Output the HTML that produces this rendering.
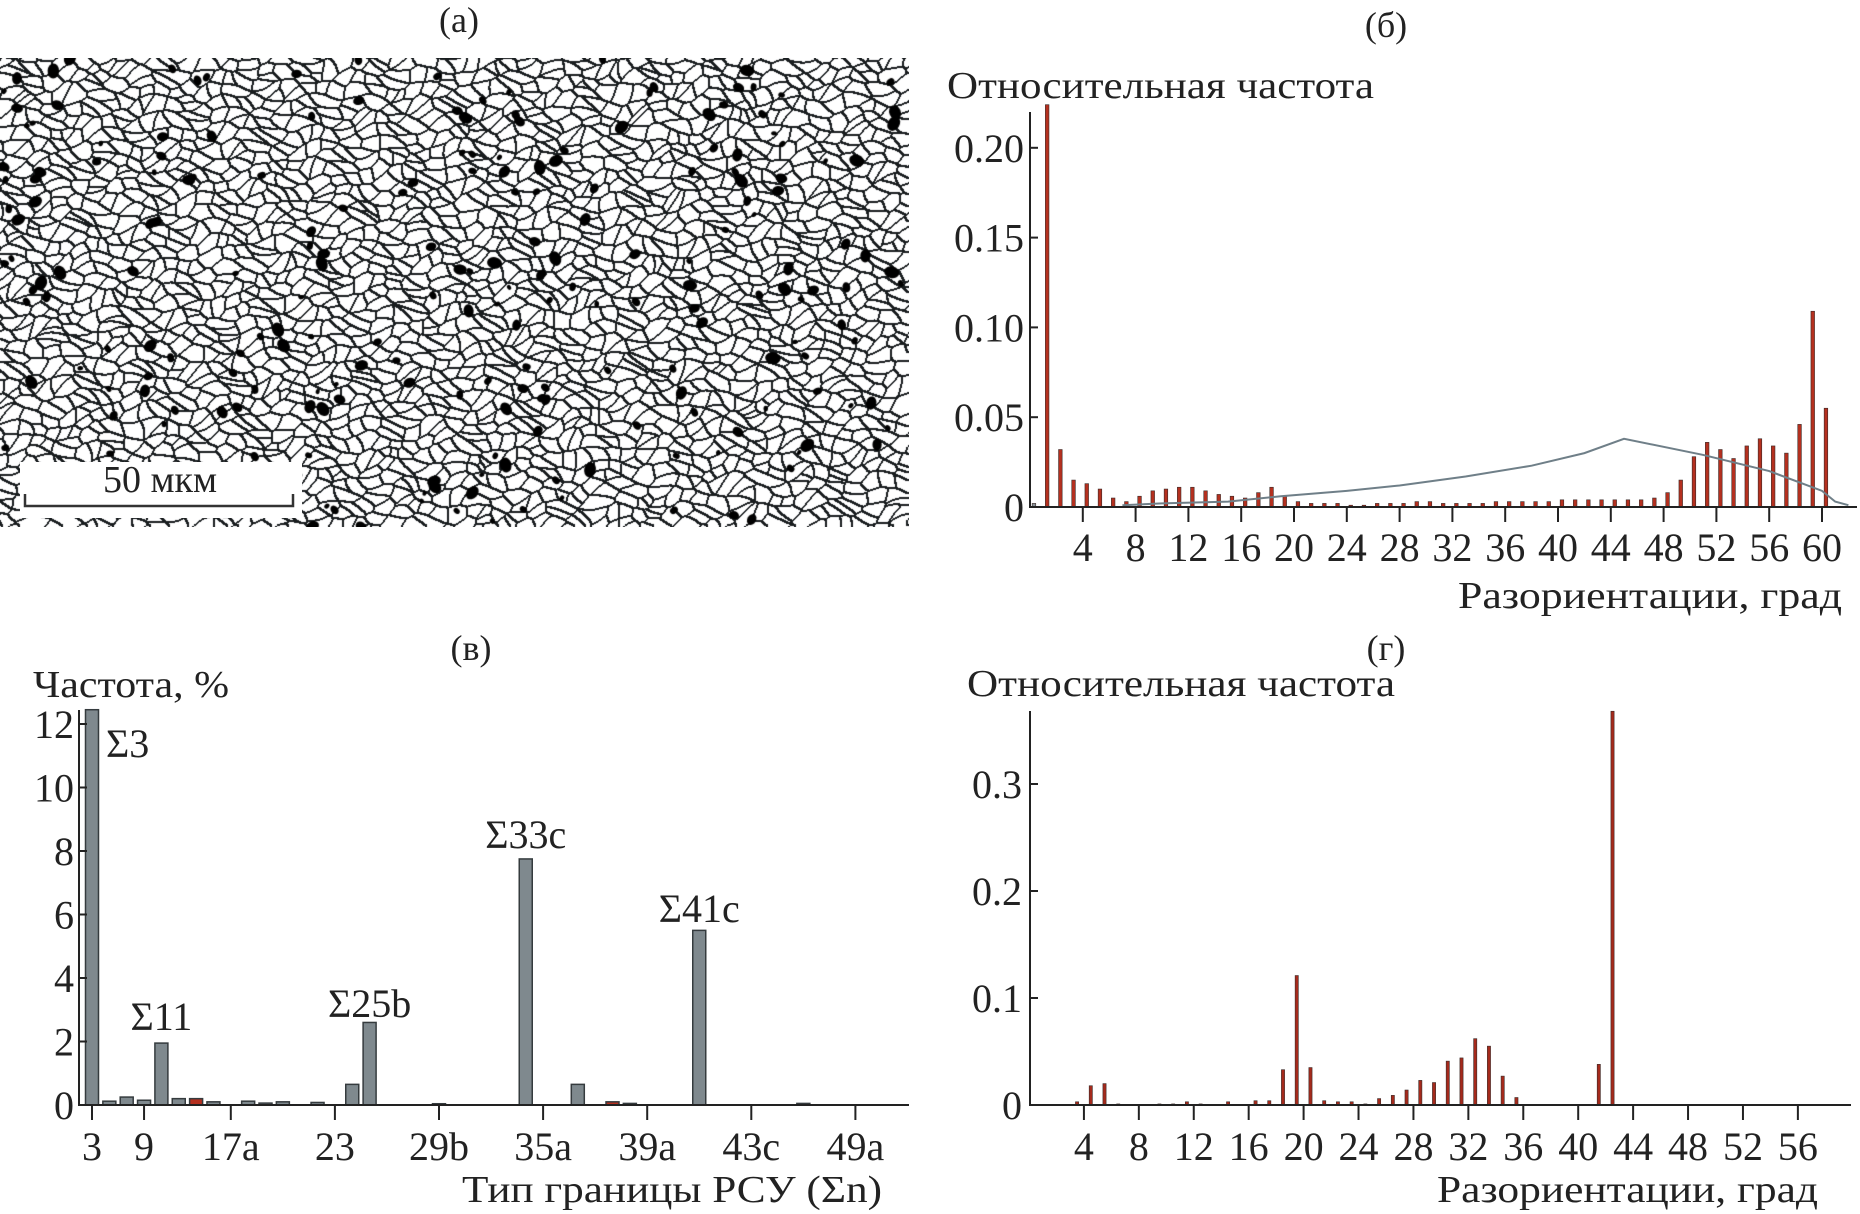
<!DOCTYPE html>
<html><head><meta charset="utf-8">
<style>
html,body{margin:0;padding:0;background:#fff;}
#root{position:relative;width:1860px;height:1214px;overflow:hidden;background:#fff;}
svg text{font-family:"Liberation Serif",serif;fill:#222;}
#micro{position:absolute;left:0;top:58px;}
</style></head>
<body>
<div id="root">
<canvas id="micro" width="909" height="469"></canvas>
<svg id="svg" width="1860" height="1214" style="position:absolute;left:0;top:0">
  <text x="459" y="32" font-size="36" text-anchor="middle">(а)</text>
  <g>
    <rect x="20" y="462" width="282" height="56" fill="#fff"/>
    <text x="160" y="492" font-size="38" text-anchor="middle">50 мкм</text>
    <path d="M25 494 V506 H293 V494" fill="none" stroke="#333" stroke-width="2.5"/>
  </g>
</svg>
</div>
<script>
// ---------- micrograph texture (image, not data) ----------
(function(){
  var c=document.getElementById('micro'),ctx=c.getContext('2d');
  var W=c.width,H=c.height;
  var s=12345;function rnd(){s=(s*1103515245+12345)&0x7fffffff;return s/0x7fffffff;}
  var G=14,gx=Math.ceil(W/G)+2,gy=Math.ceil(H/G)+2,seeds=[];
  for(var j=0;j<gy;j++)for(var i=0;i<gx;i++){seeds.push([(i-1+rnd())*G,(j-1+rnd())*G]);}
  var img=ctx.createImageData(W,H),d=img.data,lab=new Int32Array(W*H);
  for(var y=0;y<H;y++)for(var x=0;x<W;x++){
    var wx=x+4*Math.sin(y*0.11+x*0.05),wy=y+4*Math.cos(x*0.09-y*0.04);
    var ci=Math.floor(wx/G)+1,cj=Math.floor(wy/G)+1,best=1e9,bi=0;
    for(var dj=-2;dj<=2;dj++)for(var di=-2;di<=2;di++){
      var ii=ci+di,jj=cj+dj;if(ii<0||jj<0||ii>=gx||jj>=gy)continue;
      var k=jj*gx+ii,p=seeds[k],dx=(wx-p[0])*0.75,dy=(wy-p[1])*1.15,dd=dx*dx+dy*dy;
      if(dd<best){best=dd;bi=k;}
    }
    lab[y*W+x]=bi;
  }
  for(var y=0;y<H;y++)for(var x=0;x<W;x++){
    var l=lab[y*W+x],b=false;
    if(x+1<W&&lab[y*W+x+1]!=l)b=true;
    if(y+1<H&&lab[(y+1)*W+x]!=l)b=true;
    if(x+2<W&&lab[y*W+x+2]!=l)b=true;
    if(y+2<H&&lab[(y+2)*W+x]!=l)b=true;
    var v=b?25:255,o=(y*W+x)*4;d[o]=v;d[o+1]=v+4;d[o+2]=v+6;d[o+3]=255;
  }
  ctx.putImageData(img,0,0);
  ctx.fillStyle='#000';
  for(var n=0;n<220;n++){var x=rnd()*W,y=rnd()*H,r=2+rnd()*4;ctx.beginPath();ctx.ellipse(x,y,r*1.3,r,rnd()*3,0,7);ctx.fill();}
})();

// ---------- data ----------
var bAngles=[0,1,2,3,4,5,6,7,8,9,10,11,12,13,14,15,16,17,18,19,20,21,22,23,24,25,26,27,28,29,30,31,32,33,34,35,36,37,38,39,40,41,42,43,44,45,46,47,48,49,50,51,52,53,54,55,56,57,58,59,60];
var bValues=[0.002,0.24,0.032,0.015,0.013,0.010,0.005,0.003,0.006,0.009,0.010,0.011,0.011,0.009,0.007,0.006,0.005,0.008,0.011,0.006,0.003,0.002,0.002,0.002,0.001,0.001,0.002,0.002,0.002,0.003,0.003,0.002,0.002,0.002,0.002,0.003,0.003,0.003,0.003,0.003,0.004,0.004,0.004,0.004,0.004,0.004,0.004,0.005,0.008,0.015,0.028,0.036,0.032,0.027,0.034,0.038,0.034,0.030,0.046,0.109,0.055];
var bCurveX=[7,10,15,19,24,28,33,38,42,45,51,56,60,61,62];
var bCurveY=[0.001,0.002,0.003,0.006,0.009,0.012,0.017,0.023,0.030,0.038,0.029,0.020,0.009,0.003,0.001];
var bYTicks=[0,0.05,0.10,0.15,0.20];
var bYTickLabels=['0','0.05','0.10','0.15','0.20'];
var bXTicks=[4,8,12,16,20,24,28,32,36,40,44,48,52,56,60];

var vSlots=[0,1,2,3,4,5,6,7,9,10,11,13,15,16,20,25,28,30,31,35,41];
var vValues=[12.5,0.12,0.25,0.15,1.95,0.2,0.2,0.1,0.12,0.06,0.1,0.08,0.65,2.6,0.04,7.75,0.65,0.1,0.05,5.5,0.05];
var vRed=[false,false,false,false,false,false,true,false,false,false,false,false,false,false,false,false,false,true,false,false,false];
var vTickSlots=[0,3,8,14,20,26,32,38,44];
var vTickLabels=['3','9','17a','23','29b','35a','39a','43c','49a'];
var vYTicks=[0,2,4,6,8,10,12];
var vAnnot=[['Σ3',0,10.96,'start'],['Σ11',4,2.36,'middle'],['Σ25b',16,2.77,'middle'],['Σ33c',25,8.1,'middle'],['Σ41c',35,5.76,'middle']];

var gAngles=[3.5,4.5,5.5,6.5,9.5,10.5,11.5,12.5,14.5,16.5,17.5,18.5,19.5,20.5,21.5,22.5,23.5,24.5,25.5,26.5,27.5,28.5,29.5,30.5,31.5,32.5,33.5,34.5,35.5,41.5,42.5];
var gValues=[0.003,0.018,0.020,0.001,0.001,0.001,0.003,0.001,0.003,0.004,0.004,0.033,0.121,0.035,0.004,0.003,0.003,0.001,0.006,0.009,0.014,0.023,0.021,0.041,0.044,0.062,0.055,0.027,0.007,0.038,0.40];
var gYTicks=[0,0.1,0.2,0.3];
var gYTickLabels=['0','0.1','0.2','0.3'];
var gXTicks=[4,8,12,16,20,24,28,32,36,40,44,48,52,56];

// ---------- drawing ----------
var NS='http://www.w3.org/2000/svg',svg=document.getElementById('svg');
function el(tag,attrs,parent,txt){var e=document.createElementNS(NS,tag);for(var k in attrs)e.setAttribute(k,attrs[k]);if(txt!=null)e.textContent=txt;(parent||svg).appendChild(e);return e;}
function grp(name){var g=el('g',{});


return g;}

// Chart б
(function(){
  var g=grp('chart-b');
  var X=function(v){return 1030+v*13.2;},Y=function(v){return 507-v*1796;};
  var t=el('text',{x:1386,y:37,'font-size':36,'text-anchor':'middle'},g,'(б)');
  
  
  t=el('text',{x:947,y:98,'font-size':38,textLength:427,lengthAdjust:'spacingAndGlyphs'},g,'Относительная частота');
  
  
  t=el('text',{x:1842,y:608,'font-size':38,'text-anchor':'end',textLength:384,lengthAdjust:'spacingAndGlyphs'},g,'Разориентации, град');
  
  
  for(var i=0;i<bAngles.length;i++){
    var v=Math.min(bValues[i],0.224),x=X(bAngles[i]+0.3);
    var r=el('rect',{x:x-1.8,y:Y(v),width:3.6,height:507-Y(v),fill:(i==0?'#8a9499':'#b5301f'),stroke:'#3a2a28','stroke-width':0.6},g);
    
    
  }
  var pts=bCurveX.map(function(a,i){return X(a)+','+Y(bCurveY[i]);}).join(' ');
  var pl=el('polyline',{points:pts,fill:'none',stroke:'#6f7f88','stroke-width':2},g);
  
  
  el('line',{x1:1030,y1:112,x2:1030,y2:508,stroke:'#222','stroke-width':2},g);
  el('line',{x1:1029,y1:507,x2:1857,y2:507,stroke:'#222','stroke-width':2},g);
  bYTicks.forEach(function(v,i){
    el('line',{x1:1030,y1:Y(v),x2:1038,y2:Y(v),stroke:'#222','stroke-width':2},g);
    var tt=el('text',{x:1024,y:Y(v)+14,'font-size':40,'text-anchor':'end'},g,bYTickLabels[i]);
    
    
  });
  bXTicks.forEach(function(v){
    el('line',{x1:X(v),y1:507,x2:X(v),y2:522,stroke:'#222','stroke-width':2},g);
    var tt=el('text',{x:X(v),y:561,'font-size':40,'text-anchor':'middle'},g,String(v));
    
    
  });
})();

// Chart в
(function(){
  var g=grp('chart-v');
  var X=function(s){return 92+s*17.35;},Y=function(v){return 1105-v*31.75;};
  var t=el('text',{x:471,y:660,'font-size':36,'text-anchor':'middle'},g,'(в)');
  
  
  t=el('text',{x:33,y:697,'font-size':38,textLength:196,lengthAdjust:'spacingAndGlyphs'},g,'Частота, %');
  
  
  t=el('text',{x:882,y:1202,'font-size':38,'text-anchor':'end',textLength:420,lengthAdjust:'spacingAndGlyphs'},g,'Тип границы РСУ (Σn)');
  
  
  for(var i=0;i<vSlots.length;i++){
    var v=Math.min(vValues[i],12.45),x=X(vSlots[i]);
    var r=el('rect',{x:x-6.5,y:Y(v),width:13,height:1105-Y(v),fill:vRed[i]?'#b5301f':'#7f898e',stroke:'#353b3e','stroke-width':1.5},g);
    
    
  }
  el('line',{x1:79,y1:710,x2:79,y2:1106,stroke:'#222','stroke-width':2},g);
  el('line',{x1:78,y1:1105,x2:909,y2:1105,stroke:'#222','stroke-width':2},g);
  vYTicks.forEach(function(v){
    el('line',{x1:79,y1:Y(v),x2:87,y2:Y(v),stroke:'#222','stroke-width':2},g);
    var tt=el('text',{x:74,y:Y(v)+14,'font-size':40,'text-anchor':'end'},g,String(v));
    
    
  });
  vTickSlots.forEach(function(s,i){
    el('line',{x1:X(s),y1:1105,x2:X(s),y2:1120,stroke:'#222','stroke-width':2},g);
    var tt=el('text',{x:X(s),y:1160,'font-size':40,'text-anchor':'middle'},g,vTickLabels[i]);
    
    
  });
  vAnnot.forEach(function(a){
    var x=a[3]=='start'?X(a[1])+14:X(a[1]);
    var tt=el('text',{x:x,y:Y(a[2]),'font-size':40,'text-anchor':a[3]},g,a[0]);
    
    
  });
})();

// Chart г
(function(){
  var g=grp('chart-g');
  var X=function(v){return 1029+v*13.73;},Y=function(v){return 1105-v*1070;};
  var t=el('text',{x:1386,y:660,'font-size':36,'text-anchor':'middle'},g,'(г)');
  
  
  t=el('text',{x:967,y:696,'font-size':38,textLength:428,lengthAdjust:'spacingAndGlyphs'},g,'Относительная частота');
  
  
  t=el('text',{x:1818,y:1202,'font-size':38,'text-anchor':'end',textLength:381,lengthAdjust:'spacingAndGlyphs'},g,'Разориентации, град');
  
  
  for(var i=0;i<gAngles.length;i++){
    var v=Math.min(gValues[i],0.368),x=X(gAngles[i]);
    var r=el('rect',{x:x-1.6,y:Y(v),width:3.2,height:1105-Y(v),fill:'#a52a1c',stroke:'#3a2a28','stroke-width':0.6},g);
    
    
  }
  el('line',{x1:1030,y1:711,x2:1030,y2:1106,stroke:'#222','stroke-width':2},g);
  el('line',{x1:1029,y1:1105,x2:1851,y2:1105,stroke:'#222','stroke-width':2},g);
  gYTicks.forEach(function(v,i){
    el('line',{x1:1030,y1:Y(v),x2:1038,y2:Y(v),stroke:'#222','stroke-width':2},g);
    var tt=el('text',{x:1022,y:Y(v)+14,'font-size':40,'text-anchor':'end'},g,gYTickLabels[i]);
    
    
  });
  gXTicks.forEach(function(v){
    el('line',{x1:X(v),y1:1105,x2:X(v),y2:1120,stroke:'#222','stroke-width':2},g);
    var tt=el('text',{x:X(v),y:1160,'font-size':40,'text-anchor':'middle'},g,String(v));
    
    
  });
})();
</script>
</body></html>
